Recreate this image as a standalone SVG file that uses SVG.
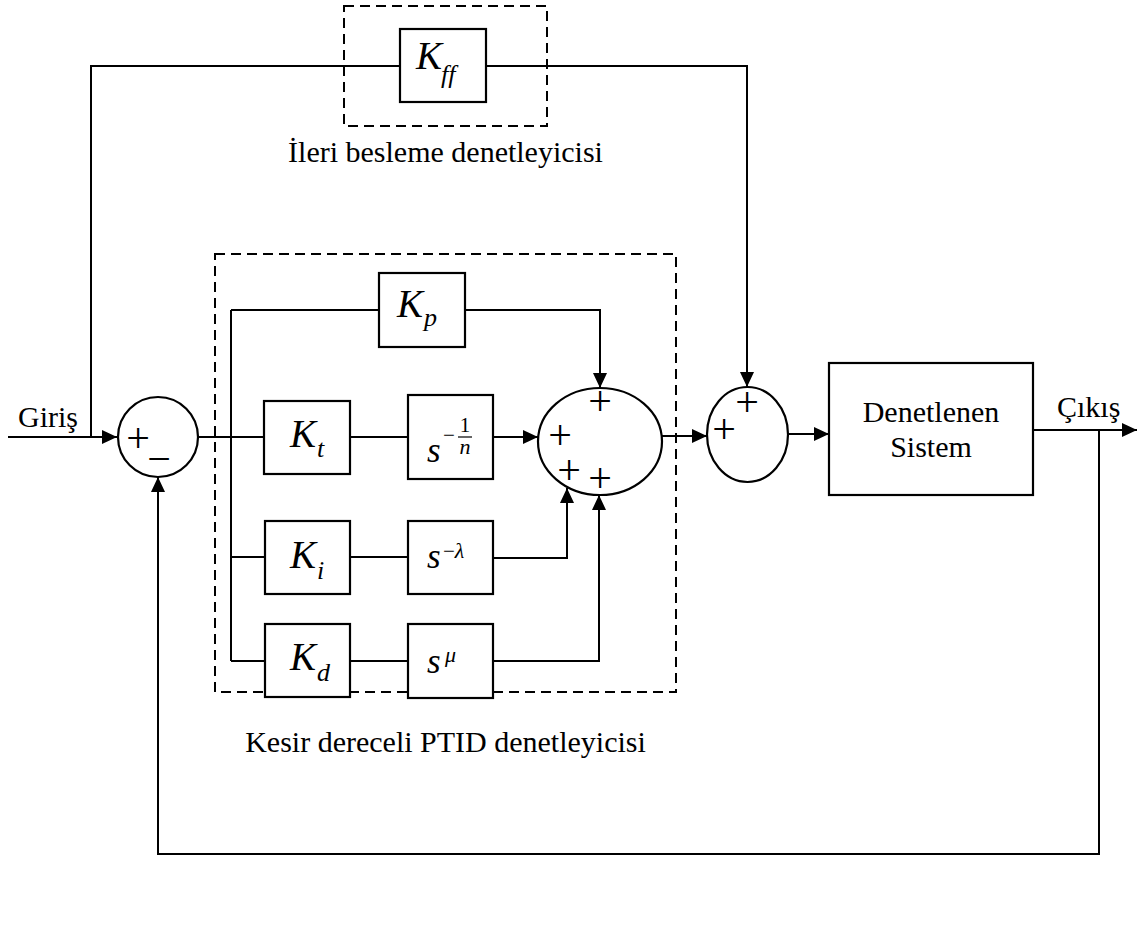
<svg xmlns="http://www.w3.org/2000/svg" width="1142" height="936" viewBox="0 0 1142 936">
<defs>
<marker id="arr" markerUnits="userSpaceOnUse" markerWidth="16" markerHeight="14" refX="15" refY="7" orient="auto">
<path d="M0,0 L15,7 L0,14 z" fill="#000"/>
</marker>
<style>
.ln{fill:none;stroke:#000;stroke-width:2}
.ar{fill:none;stroke:#000;stroke-width:2;marker-end:url(#arr)}
.bx{fill:#fff;stroke:#000;stroke-width:2.2}
.ds{fill:none;stroke:#000;stroke-width:2;stroke-dasharray:10 6}
.lb{font-family:"Liberation Serif","Times New Roman",serif;font-size:30px;fill:#000}
.mi{font-family:"Liberation Serif","Times New Roman",serif;font-style:italic;font-size:39px;fill:#000}
.sb{font-family:"Liberation Serif","Times New Roman",serif;font-style:italic;font-size:26px;fill:#000}
.ms{font-family:"Liberation Serif","Times New Roman",serif;font-style:italic;font-size:35px;fill:#000}
.sp{font-family:"Liberation Serif","Times New Roman",serif;font-size:21px;fill:#000}
.spi{font-family:"Liberation Serif","Times New Roman",serif;font-style:italic;font-size:22px;fill:#000}
.pl{font-family:"Liberation Serif","Times New Roman",serif;font-size:42px;fill:#000;text-anchor:middle}
</style>
</defs>
<rect width="1142" height="936" fill="#fff"/>

<g id="connectors">
<path class="ar" d="M8,437 H117"/>
<path class="ln" d="M91,437 V66 H400"/>
<path class="ar" d="M486,66 H747 V387"/>
<path class="ln" d="M198,437 H264"/>
<path class="ln" d="M231,310 V661"/>
<path class="ln" d="M231,310 H379"/>
<path class="ln" d="M231,557 H265"/>
<path class="ln" d="M231,661 H265"/>
<path class="ln" d="M350,437 H408"/>
<path class="ar" d="M493,437 H538"/>
<path class="ar" d="M465,310 H600 V388"/>
<path class="ln" d="M350,557 H408"/>
<path class="ar" d="M493,558 H567 V488"/>
<path class="ln" d="M350,661 H408"/>
<path class="ar" d="M493,661 H599 V495"/>
<path class="ar" d="M662,436 H707"/>
<path class="ar" d="M788,434 H829"/>
<path class="ar" d="M1033,430 H1137"/>
<path class="ar" d="M1099,430 V854 H158 V477"/>
</g>

<g id="ff-group">
<rect class="ds" x="344" y="6" width="203" height="120"/>
<text class="lb" x="445.5" y="162" text-anchor="middle">İleri besleme denetleyicisi</text>
</g>

<g id="ptid-group">
<rect class="ds" x="215" y="254" width="461" height="438"/>
<text class="lb" x="445.5" y="752" text-anchor="middle">Kesir dereceli PTID denetleyicisi</text>
</g>

<g id="Kff">
<rect class="bx" x="400" y="29" width="86" height="73"/>
<text class="mi" x="416" y="69">K</text>
<text class="sb" x="441" y="83">ff</text>
</g>

<g id="sum1">
<circle class="bx" cx="158" cy="437" r="40"/>
<text class="pl" x="138" y="452">+</text>
<text class="pl" x="159" y="473">−</text>
</g>

<g id="Kp">
<rect class="bx" x="379" y="273" width="86" height="74"/>
<text class="mi" x="397" y="317">K</text>
<text class="sb" x="424" y="326">p</text>
</g>

<g id="Kt">
<rect class="bx" x="264" y="401" width="86" height="73"/>
<text class="mi" x="290" y="447">K</text>
<text class="sb" x="317" y="457">t</text>
</g>

<g id="s1n">
<rect class="bx" x="408" y="395" width="85" height="84"/>
<text class="ms" x="427" y="462">s</text>
<text class="sp" x="443" y="442">−</text>
<text class="sp" x="465" y="432" text-anchor="middle">1</text>
<line x1="458" y1="437" x2="472" y2="437" stroke="#000" stroke-width="1.2"/>
<text class="spi" x="465" y="454" text-anchor="middle">n</text>
</g>

<g id="Ki">
<rect class="bx" x="265" y="521" width="85" height="73"/>
<text class="mi" x="290" y="568">K</text>
<text class="sb" x="317" y="579">i</text>
</g>

<g id="slambda">
<rect class="bx" x="408" y="521" width="85" height="73"/>
<text class="ms" x="427" y="568">s</text>
<text class="sp" x="443" y="558">−<tspan class="spi">λ</tspan></text>
</g>

<g id="Kd">
<rect class="bx" x="265" y="624" width="85" height="73"/>
<text class="mi" x="290" y="670">K</text>
<text class="sb" x="317" y="681">d</text>
</g>

<g id="smu">
<rect class="bx" x="408" y="624" width="85" height="74"/>
<text class="ms" x="427" y="673">s</text>
<text class="spi" x="445" y="662">μ</text>
</g>

<g id="sum2">
<ellipse class="bx" cx="600" cy="441.5" rx="62" ry="53.5"/>
<text class="pl" x="600" y="415">+</text>
<text class="pl" x="560" y="449">+</text>
<text class="pl" x="569" y="484">+</text>
<text class="pl" x="600" y="492">+</text>
</g>

<g id="sum3">
<ellipse class="bx" cx="747.5" cy="434.5" rx="40.5" ry="47.5"/>
<text class="pl" x="747" y="416">+</text>
<text class="pl" x="724" y="443">+</text>
</g>

<g id="plant">
<rect class="bx" x="829" y="363" width="204" height="132"/>
<text class="lb" x="931" y="422" text-anchor="middle">Denetlenen</text>
<text class="lb" x="931" y="457" text-anchor="middle">Sistem</text>
</g>

<g id="labels">
<text class="lb" x="18" y="427">Giriş</text>
<text class="lb" x="1057" y="417">Çıkış</text>
</g>
</svg>
